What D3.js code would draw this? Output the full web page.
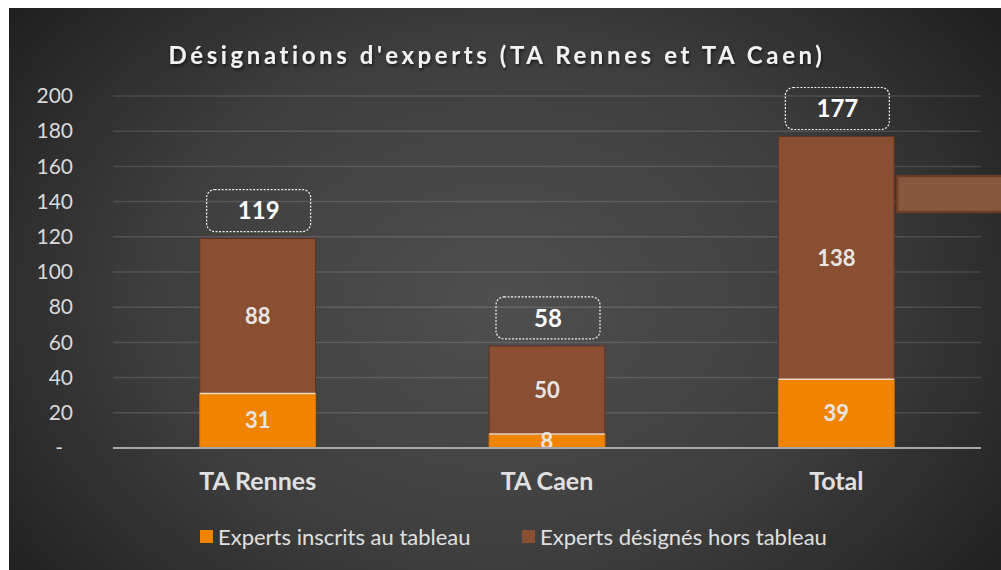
<!DOCTYPE html>
<html><head><meta charset="utf-8">
<script src="https://cdn.jsdelivr.net/npm/d3@7"></script>
<style>
body{margin:0;background:#fff;}
svg text{font-family:Lato,'Open Sans',sans-serif;}
</style>
</head><body>
<svg id="chart" width="1001" height="570"></svg>
<script>
const title = "Désignations d'experts (TA Rennes et TA Caen)";
const categories = ["TA Rennes", "TA Caen", "Total"];
const inscrits = [31, 8, 39];
const horsTableau = [88, 50, 138];
const totals = [119, 58, 177];
const yTicks = [0, 20, 40, 60, 80, 100, 120, 140, 160, 180, 200];
const seriesNames = ["Experts inscrits au tableau", "Experts désignés hors tableau"];
const seriesColors = ["#f08400", "#8a4e33"];

const svg = d3.select("#chart");
const defs = svg.append("defs");
const rg = defs.append("radialGradient").attr("id","bg")
  .attr("gradientUnits","userSpaceOnUse").attr("cx",500).attr("cy",300).attr("r",620)
  .attr("gradientTransform","translate(500,300) scale(1,0.75) translate(-500,-300)");
rg.append("stop").attr("offset","0%").attr("stop-color","#4f4f4f");
rg.append("stop").attr("offset","55%").attr("stop-color","#3e3e3e");
rg.append("stop").attr("offset","100%").attr("stop-color","#202020");
const sh = defs.append("filter").attr("id","shadow").attr("x","-10%").attr("y","-30%").attr("width","120%").attr("height","160%");
sh.append("feDropShadow").attr("dx",1).attr("dy",2).attr("stdDeviation",1.5).attr("flood-color","#000").attr("flood-opacity",0.6);

svg.append("rect").attr("x",9).attr("y",8).attr("width",992).attr("height",562).attr("fill","url(#bg)");

const x = d3.scaleBand().domain(categories).range([113, 981]).paddingInner(0.6).paddingOuter(0.3);
const y = d3.scaleLinear().domain([0, 200]).range([448, 96]);

// gridlines
svg.append("g").selectAll("line").data(yTicks.filter(d => d > 0)).join("line")
  .attr("x1",113).attr("x2",981).attr("y1",d=>y(d)).attr("y2",d=>y(d))
  .attr("stroke","rgba(255,255,255,0.13)").attr("stroke-width",1.5);

// y axis
const yAxis = svg.append("g").attr("transform","translate(73,0)")
  .call(d3.axisLeft(y).tickValues(yTicks).tickSize(0).tickPadding(0).tickFormat(d => d === 0 ? "-" : d));
yAxis.select(".domain").remove();
yAxis.selectAll("text").attr("fill","#d9d9d9").style("font-size","21px")
  .attr("dx", d => d === 0 ? -10 : 0);

// stacked bars
const rows = categories.map((c,i) => ({cat:c, a:inscrits[i], b:horsTableau[i]}));
const stack = d3.stack().keys(["a","b"])(rows);
const g = svg.append("g");
stack.forEach((layer, li) => {
  g.append("g").selectAll("rect").data(layer).join("rect")
    .attr("x", d => x(d.data.cat)).attr("width", x.bandwidth())
    .attr("y", d => y(d[1])).attr("height", d => y(d[0]) - y(d[1]))
    .attr("fill", seriesColors[li])
    .attr("stroke", li === 1 ? "#5e3322" : "#d87400").attr("stroke-width", 1);
});
// light separator line on top of the orange segment
g.append("g").selectAll("line").data(stack[0]).join("line")
  .attr("x1", d => x(d.data.cat)).attr("x2", d => x(d.data.cat) + x.bandwidth())
  .attr("y1", d => y(d[1])).attr("y2", d => y(d[1]))
  .attr("stroke","#f3dcc4").attr("stroke-width",1.5);

// segment labels
stack.forEach(layer => {
  g.append("g").selectAll("text").data(layer).join("text")
    .attr("x", d => x(d.data.cat) + x.bandwidth()/2)
    .attr("y", d => (y(d[0]) + y(d[1]))/2)
    .attr("dy","0.35em").attr("text-anchor","middle")
    .attr("fill","#e6e6e6").style("font-size","22px").style("font-weight","bold")
    .text(d => d[1] - d[0]);
});

// total boxes
const tg = svg.append("g").selectAll("g").data(categories).join("g")
  .attr("transform", (c,i) => `translate(${x(c) + x.bandwidth()/2 + 1},${y(totals[i]) - 28})`);
tg.append("rect").attr("x",-52).attr("y",-21).attr("width",104).attr("height",42).attr("rx",8)
  .attr("fill","none").attr("stroke","#f2f2f2").attr("stroke-width",1.2).attr("stroke-dasharray","2,1.5");
tg.append("text").attr("text-anchor","middle").attr("dy","0.36em")
  .attr("fill","#ffffff").style("font-size","24px").style("font-weight","bold")
  .text((c,i) => totals[i]);

// x axis baseline
svg.append("line").attr("x1",113).attr("x2",981).attr("y1",y(0)).attr("y2",y(0))
  .attr("stroke","#a6a6a6").attr("stroke-width",2);

// x axis labels
const xAxis = svg.append("g").attr("transform",`translate(0,${y(0)})`)
  .call(d3.axisBottom(x).tickSize(0).tickPadding(24));
xAxis.select(".domain").remove();
xAxis.selectAll("text").attr("fill","#e0e0e0").style("font-size","25px").style("font-weight","bold");

// title
svg.append("text").attr("x",497).attr("y",64).attr("text-anchor","middle")
  .attr("fill","#f2f2f2").style("font-size","24px").style("font-weight","bold")
  .style("letter-spacing","3.6px").attr("filter","url(#shadow)")
  .text(title);

// legend
const legendX = [200, 522];
const lg = svg.append("g").selectAll("g").data(seriesNames).join("g")
  .attr("transform",(d,i)=>`translate(${legendX[i]},530)`);
lg.append("rect").attr("width",13).attr("height",13).attr("fill",(d,i)=>seriesColors[i]);
lg.append("text").attr("x",18).attr("y",7).attr("dy","0.36em")
  .attr("fill","#e0e0e0").style("font-size","22px").text(d=>d);

// stray legend-like shape at right edge
svg.append("rect").attr("x",897).attr("y",176).attr("width",110).attr("height",36)
  .attr("fill","#87573f").attr("stroke","#6b3b26").attr("stroke-width",2.5);
</script>
</body></html>
